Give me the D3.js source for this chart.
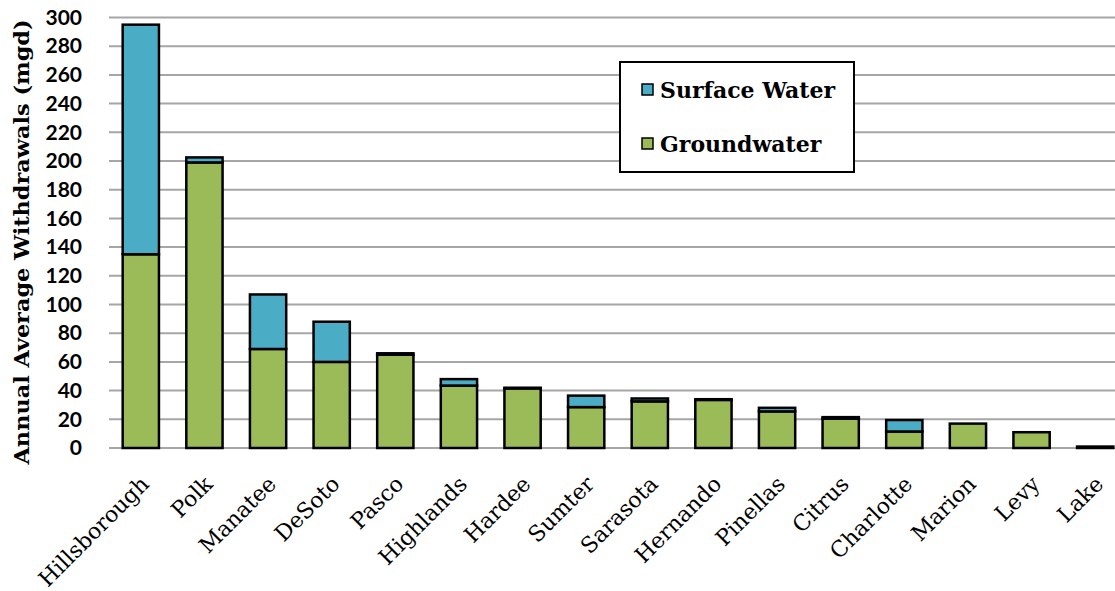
<!DOCTYPE html>
<html>
<head>
<meta charset="utf-8">
<script src="https://cdn.jsdelivr.net/npm/d3@7"></script>
<style>
  body { margin: 0; background: #fff; }
  text { font-family: "DejaVu Serif", serif; }
</style>
</head>
<body>
<div id="chart"></div>
<script>
(function(){
    'use strict';

    var counties = ['Hillsborough', 'Polk', 'Manatee', 'DeSoto', 'Pasco', 'Highlands', 'Hardee',
        'Sumter', 'Sarasota', 'Hernando', 'Pinellas', 'Citrus', 'Charlotte', 'Marion', 'Levy', 'Lake'];
    var groundwater = [135, 199, 69, 60, 65, 43.5, 41.5, 28.5, 32.5, 33.5, 25.5, 20.5, 11.5, 17, 11, 1];
    var surfaceWater = [160, 3.5, 38, 28, 1, 4.5, 0.5, 8, 2, 0.5, 2.5, 1, 8, 0, 0, 0];
    var yTicks = d3.range(0, 301, 20);
    var seriesNames = ['Surface Water', 'Groundwater'];
    var seriesColors = ['#4BACC6', '#9BBB59'];

    var width = 1115, height = 591;
    var margin = {top: 17.5, right: -12, bottom: 143, left: 109};
    var innerW = width - margin.left - margin.right,
        innerH = height - margin.top - margin.bottom;

    var rows = counties.map(function (c, i) {
        return {county: c, ground: groundwater[i], surface: surfaceWater[i]};
    });
    var stack = d3.stack().keys(['ground', 'surface'])(rows);

    var x = d3.scaleBand().domain(counties).range([0, innerW]).paddingInner(0.43).paddingOuter(0.215);
    var y = d3.scaleLinear().domain([0, 300]).range([innerH, 0]);

    var svg = d3.select('#chart').append('svg')
        .attr('width', width)
        .attr('height', height);

    var g = svg.append('g')
        .attr('transform', 'translate(' + margin.left + ',' + margin.top + ')');

    // gridlines
    g.append('g').selectAll('line')
        .data(yTicks)
        .enter().append('line')
        .attr('x1', 0).attr('x2', innerW)
        .attr('y1', function (d) { return y(d); })
        .attr('y2', function (d) { return y(d); })
        .attr('stroke', '#a6a6a6')
        .attr('stroke-width', 2);

    // y axis labels
    var yAxis = g.append('g')
        .call(d3.axisLeft(y).tickValues(yTicks).tickSize(0).tickPadding(27));
    yAxis.select('.domain').remove();
    yAxis.selectAll('text')
        .style('font-family', 'Lato, "Open Sans", sans-serif')
        .style('font-size', '21px')
        .style('font-weight', 'bold')
        .attr('fill', '#000');

    // bars
    var layers = g.append('g').selectAll('g')
        .data(stack)
        .enter().append('g')
        .attr('fill', function (d) { return d.key === 'ground' ? seriesColors[1] : seriesColors[0]; });

    layers.selectAll('rect')
        .data(function (d) { return d.filter(function (p) { return p[1] - p[0] > 0; }); })
        .enter().append('rect')
        .attr('x', function (d) { return x(d.data.county); })
        .attr('width', x.bandwidth())
        .attr('y', function (d) { return y(d[1]); })
        .attr('height', function (d) { return y(d[0]) - y(d[1]); })
        .attr('stroke', '#000')
        .attr('stroke-width', 2.5);

    // x labels
    g.append('g').selectAll('text')
        .data(counties)
        .enter().append('text')
        .attr('transform', function (d) {
            return 'translate(' + (x(d) + x.bandwidth() / 2 + 4) + ',' + (innerH + 32) + ') rotate(-45)';
        })
        .attr('text-anchor', 'end')
        .attr('dy', '0.35em')
        .style('font-size', '22px')
        .text(function (d) { return d; });

    // y title
    svg.append('text')
        .attr('transform', 'translate(29,' + 242 + ') rotate(-90)')
        .attr('text-anchor', 'middle')
        .attr('textLength', 445)
        .attr('lengthAdjust', 'spacingAndGlyphs')
        .style('font-size', '20px')
        .style('font-weight', 'bold')
        .text('Annual Average Withdrawals (mgd)');

    // legend
    var legend = svg.append('g').attr('transform', 'translate(620,62)');
    legend.append('rect')
        .attr('width', 234).attr('height', 110)
        .attr('fill', '#fff')
        .attr('stroke', '#000')
        .attr('stroke-width', 2);
    var item = legend.selectAll('g.item')
        .data(seriesNames)
        .enter().append('g')
        .attr('class', 'item')
        .attr('transform', function (d, i) { return 'translate(22,' + (22 + i * 54) + ')'; });
    item.append('rect')
        .attr('width', 11).attr('height', 11)
        .attr('fill', function (d, i) { return seriesColors[i]; })
        .attr('stroke', '#000')
        .attr('stroke-width', 1.5);
    item.append('text')
        .attr('x', 18).attr('y', 6)
        .attr('dy', '0.35em')
        .style('font-size', '22px')
        .style('font-weight', 'bold')
        .text(function (d) { return d; });
})();
</script>
</body>
</html>
